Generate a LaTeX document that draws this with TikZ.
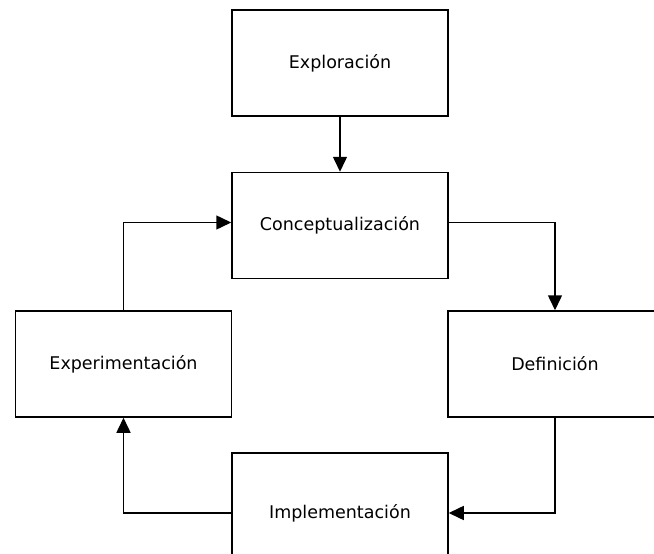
\documentclass[tikz,border=0pt]{standalone}
\usepackage{fontspec}
\setmainfont{DejaVu Sans}
\usetikzlibrary{arrows.meta}
\begin{document}
\begin{tikzpicture}[x=1pt,y=-1pt,
  stage/.style={draw, line width=1.5pt, rectangle, inner sep=0pt,
    minimum width=216pt, minimum height=106pt,
    font=\fontsize{17.5}{21}\selectfont},
  flow/.style={draw, line width=1.5pt,
    -{Triangle[length=15pt,width=14pt]}}]
  \clip (0,0) rectangle (654,554);
  \fill[white] (0,0) rectangle (654,554);

  \node[stage] (explo)  at (340,63)    {Exploración};
  \node[stage] (concep) at (340,225.5) {Conceptualización};
  \node[stage] (exper)  at (123.5,364) {Experimentación};
  \node[stage, minimum width=214pt] (defin) at (555,364) {Definición};
  \node[stage, minimum height=120pt] (impl) at (340,513) {Implementación};

  \draw[flow] (explo.south) -- (concep.north);
  \draw[flow] ([yshift=3pt]concep.east) -| (defin.north);
  \draw[flow] (defin.south) |- (impl.east);
  \draw[flow] (impl.west) -| (exper.south);
  \draw[flow] (exper.north) |- ([yshift=3pt]concep.west);
\end{tikzpicture}
\end{document}
